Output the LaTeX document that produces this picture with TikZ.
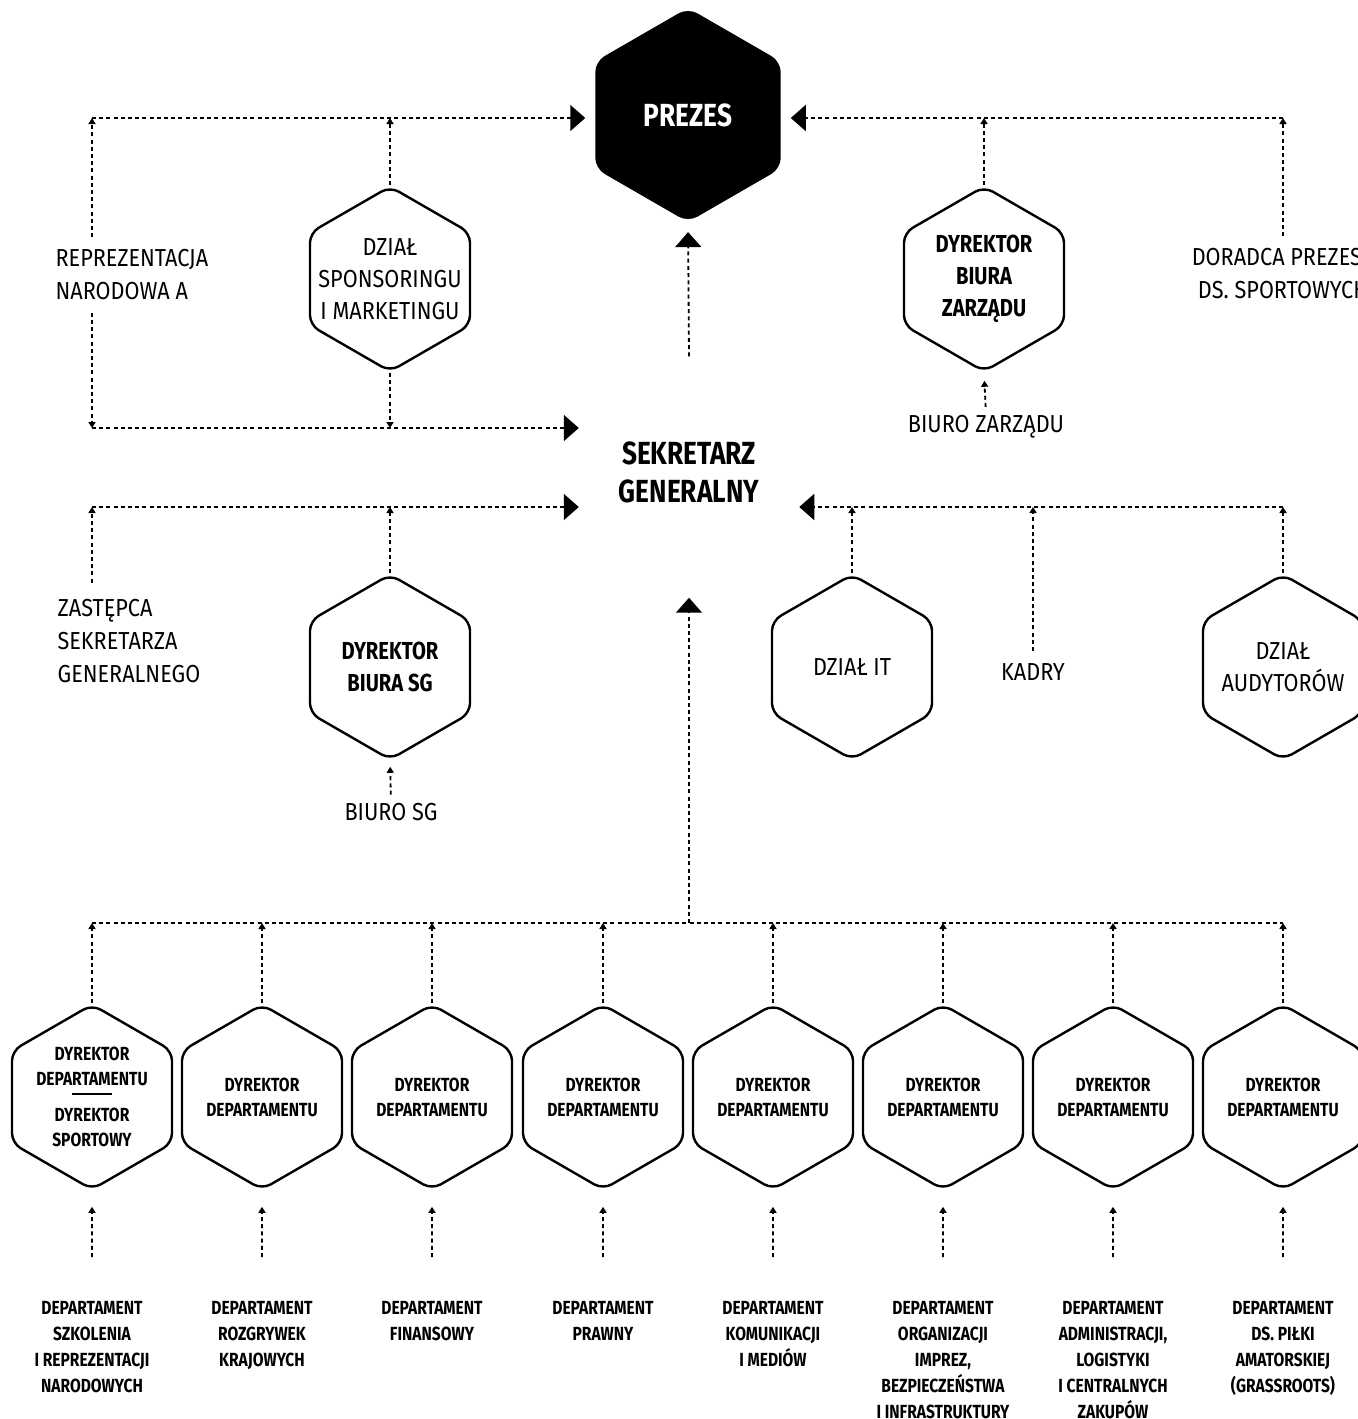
\documentclass[tikz,border=0pt]{standalone}
\usepackage{fontspec}
\setmainfont{Fira Sans}[UprightFeatures={FakeStretch=0.88},BoldFeatures={FakeStretch=0.82}]
\usetikzlibrary{arrows.meta,shapes.geometric,positioning}

\begin{document}
\begin{tikzpicture}[x=0.5pt,y=-0.5pt,semithick]
	  \tikzstyle{hex}=[regular polygon,regular polygon sides=6,shape border rotate=30,minimum size=92.4pt,inner sep=0pt,draw=black,line width=1.2pt,rounded corners=5pt,fill=white,align=center,font=\fontsize{12.3}{16}\selectfont]
	  \tikzstyle{hexb}=[hex,font=\bfseries\fontsize{12.3}{16}\selectfont]
	  \tikzstyle{bighex}=[hex,minimum size=105.7pt,font=\bfseries\fontsize{16}{19}\selectfont]
	  \tikzstyle{dirhex}=[hex,font=\bfseries\fontsize{9.5}{12.5}\selectfont]
	  \tikzstyle{lbl}=[align=center,inner sep=0pt,font=\fontsize{12.3}{16.5}\selectfont]
	  \tikzstyle{dept}=[align=center,anchor=north,inner sep=0pt,font=\bfseries\fontsize{9.5}{13}\selectfont]
	  \tikzstyle{conn}=[line width=0.9pt,dash pattern=on 2pt off 1.6pt]
	  \tikzstyle{boss}=[conn,-{Triangle[length=7.5pt,width=13pt]},shorten >=5pt]
	  \tikzstyle{stub}=[conn,-{Triangle[length=3pt,width=3.5pt]}]

	  \useasboundingbox (0,0) rectangle (1358,1419);

	  % top level
	  \node[bighex,fill=black,text=white] (prezes) at (688,115) {PREZES};
	  \node[bighex,draw=none,fill=none] (sg) at (689,472) {SEKRETARZ\\GENERALNY};

	  \node[hex,inner sep=-10pt] (spons) at (390,279) {DZIAŁ\\SPONSORINGU\\I MARKETINGU};
	  \node[hexb,inner sep=-3pt] (dbz) at (984,279) {DYREKTOR\\BIURA\\ZARZĄDU};
	  \node[hexb] (dsg) at (390,667) {DYREKTOR\\BIURA SG};
	  \node[hex] (it) at (852,667) {DZIAŁ IT};
	  \node[hex,inner sep=-5pt] (aud) at (1283,667) {DZIAŁ\\AUDYTORÓW};

	  \node[lbl,align=left,anchor=west] (repr) at (55,275) {REPREZENTACJA\\NARODOWA A};
	  \node[lbl,align=left,anchor=west] (zast) at (57,641) {ZASTĘPCA\\SEKRETARZA\\GENERALNEGO};
	  \node[lbl] (dor) at (1283,274) {DORADCA PREZESA\\DS. SPORTOWYCH};
	  \node[lbl] (bz) at (986,427) {BIURO ZARZĄDU};
	  \node[lbl] (bsg) at (391,812) {BIURO SG};
	  \node[lbl] (kadry) at (1033,672) {KADRY};

	  % departments
	  \node[dirhex,inner sep=-3pt] (d1) at (92,1097) {DYREKTOR\\DEPARTAMENTU\\[-3.5pt]\rule[4.5pt]{20pt}{0.6pt}\\[-3.5pt]DYREKTOR\\SPORTOWY};
	  \node[dirhex] (d2) at (262,1097) {DYREKTOR\\DEPARTAMENTU};
	  \node[dirhex] (d3) at (432,1097) {DYREKTOR\\DEPARTAMENTU};
	  \node[dirhex] (d4) at (603,1097) {DYREKTOR\\DEPARTAMENTU};
	  \node[dirhex] (d5) at (773,1097) {DYREKTOR\\DEPARTAMENTU};
	  \node[dirhex] (d6) at (943,1097) {DYREKTOR\\DEPARTAMENTU};
	  \node[dirhex] (d7) at (1113,1097) {DYREKTOR\\DEPARTAMENTU};
	  \node[dirhex] (d8) at (1283,1097) {DYREKTOR\\DEPARTAMENTU};

	  \node[dept] (p1) at (92,1301) {DEPARTAMENT\\SZKOLENIA\\I REPREZENTACJI\\NARODOWYCH};
	  \node[dept] (p2) at (262,1301) {DEPARTAMENT\\ROZGRYWEK\\KRAJOWYCH};
	  \node[dept] (p3) at (432,1301) {DEPARTAMENT\\FINANSOWY};
	  \node[dept] (p4) at (603,1301) {DEPARTAMENT\\PRAWNY};
	  \node[dept] (p5) at (773,1301) {DEPARTAMENT\\KOMUNIKACJI\\I MEDIÓW};
	  \node[dept] (p6) at (943,1301) {DEPARTAMENT\\ORGANIZACJI\\IMPREZ,\\BEZPIECZEŃSTWA\\I INFRASTRUKTURY};
	  \node[dept] (p7) at (1113,1301) {DEPARTAMENT\\ADMINISTRACJI,\\LOGISTYKI\\I CENTRALNYCH\\ZAKUPÓW};
	  \node[dept] (p8) at (1283,1301) {DEPARTAMENT\\DS. PIŁKI\\AMATORSKIEJ\\(GRASSROOTS)};

	  % bus lines
	  \coordinate (tl) at (92,118);
	  \coordinate (tr) at (1283,118);
	  \coordinate (ml) at (92,428);
	  \coordinate (sl) at (92,507);
	  \coordinate (sr) at (1283,507);
	  \coordinate (bl) at (92,923);
	  \coordinate (br) at (1283,923);

	  \draw[boss] (tl) -- (tl -| prezes.west);
	  \draw[boss] (tr) -- (tr -| prezes.east);
	  \draw[boss] (sg.north) -- (prezes.south);
	  \draw[boss] (ml) -- (ml -| sg.west);
	  \draw[boss] (sl) -- (sl -| sg.west);
	  \draw[boss] (sr) -- (sr -| sg.east);
	  \draw[conn] (bl) -- (br);
	  \draw[boss] (bl -| sg.south) -- (sg.south);

	  % reporting stubs
	  \draw[stub] ([yshift=6pt]tl |- repr.north) -- (tl);
	  \draw[stub] ([yshift=-6pt]tl |- repr.south) -- (ml);
	  \draw[stub] (spons.north) -- (spons.north |- tl);
	  \draw[stub] (spons.south) -- (spons.south |- ml);
	  \draw[stub] (dbz.north) -- (dbz.north |- tr);
	  \draw[stub] ([yshift=6pt]dor.north) -- (dor.north |- tr);
	  \draw[stub,shorten <=4pt,shorten >=4pt] (bz.north) -- (dbz.south);

	  \draw[stub] ([yshift=8pt]sl |- zast.north) -- (sl);
	  \draw[stub] (dsg.north) -- (dsg.north |- sl);
	  \draw[stub] (it.north) -- (it.north |- sr);
	  \draw[stub] ([yshift=6pt]kadry.north) -- (kadry.north |- sr);
	  \draw[stub] (aud.north) -- (aud.north |- sr);
	  \draw[stub,shorten <=4pt,shorten >=3pt] (bsg.north) -- (dsg.south);

	  \draw[stub] (d1.north) -- (d1.north |- bl);
	  \draw[stub] (d2.north) -- (d2.north |- bl);
	  \draw[stub] (d3.north) -- (d3.north |- bl);
	  \draw[stub] (d4.north) -- (d4.north |- bl);
	  \draw[stub] (d5.north) -- (d5.north |- bl);
	  \draw[stub] (d6.north) -- (d6.north |- bl);
	  \draw[stub] (d7.north) -- (d7.north |- bl);
	  \draw[stub] (d8.north) -- (d8.north |- bl);

	  \draw[stub,shorten <=22pt,shorten >=8pt] (p1.north) -- (d1.south);
	  \draw[stub,shorten <=22pt,shorten >=8pt] (p2.north) -- (d2.south);
	  \draw[stub,shorten <=22pt,shorten >=8pt] (p3.north) -- (d3.south);
	  \draw[stub,shorten <=22pt,shorten >=8pt] (p4.north) -- (d4.south);
	  \draw[stub,shorten <=22pt,shorten >=8pt] (p5.north) -- (d5.south);
	  \draw[stub,shorten <=22pt,shorten >=8pt] (p6.north) -- (d6.south);
	  \draw[stub,shorten <=22pt,shorten >=8pt] (p7.north) -- (d7.south);
	  \draw[stub,shorten <=22pt,shorten >=8pt] (p8.north) -- (d8.south);
	\end{tikzpicture}
\end{document}
